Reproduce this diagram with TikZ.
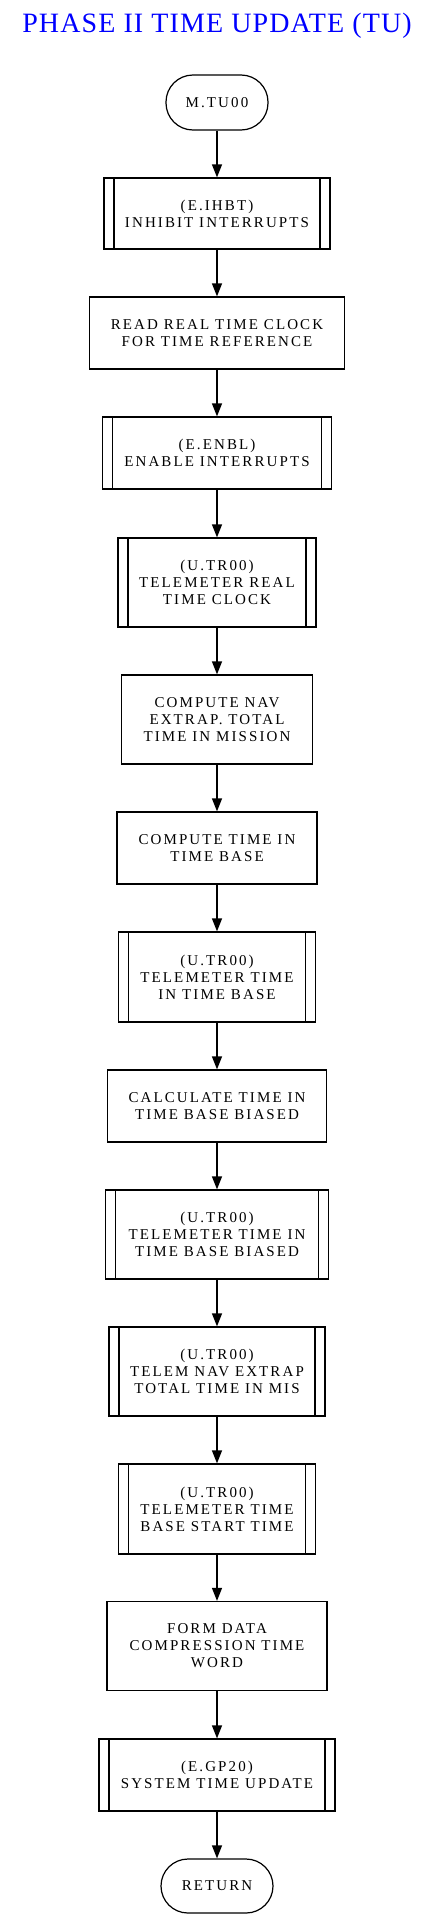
\documentclass[tikz,border=0pt]{standalone}
\usepackage{fontspec}
\newfontfamily\boxfont{Liberation Serif}[LetterSpace=14]
\newfontfamily\titlefont{Liberation Serif}[LetterSpace=4]
\usepackage{tikz}
\usetikzlibrary{arrows.meta}

\begin{document}
\begin{tikzpicture}[x=1pt, y=-1pt,
    every node/.style={inner sep=0pt, align=center, line width=1.2pt,
      font=\boxfont\fontsize{15}{17}\selectfont},
    proc/.style={draw, rectangle},
    term/.style={draw, rectangle, rounded corners=27pt},
    sub/.style={draw, rectangle, path picture={
      \draw[line width=1.2pt] ([xshift=10pt]path picture bounding box.north west) -- ([xshift=10pt]path picture bounding box.south west);
      \draw[line width=1.2pt] ([xshift=-10pt]path picture bounding box.north east) -- ([xshift=-10pt]path picture bounding box.south east);}},
    arr/.style={line width=1.2pt, -{Triangle[length=13pt, width=10pt]}}]
    \useasboundingbox (0,0) rectangle (435,1919);

    % Title
    \node[anchor=base, text=blue, font=\titlefont\fontsize{28}{30}\selectfont] (title) at (217,33) {PHASE II TIME UPDATE (TU)};

    % Entry
    \node[term, minimum width=102, minimum height=55] (start) at (217,102.5) {M.TU00};

    % Steps
    \node[sub, minimum width=226, minimum height=71] (ihbt) at (217,213.5) {(E.IHBT)\\INHIBIT INTERRUPTS};
    \node[proc, minimum width=255, minimum height=72] (rtc) at (217,333) {READ REAL TIME CLOCK\\FOR TIME REFERENCE};
    \node[sub, minimum width=229, minimum height=72] (enbl) at (217,453) {(E.ENBL)\\ENABLE INTERRUPTS};
    \node[sub, minimum width=198, minimum height=89] (trrtc) at (217,582.5) {(U.TR00)\\TELEMETER REAL\\TIME CLOCK};
    \node[proc, minimum width=191, minimum height=89] (nav) at (217,719.5) {COMPUTE NAV\\EXTRAP. TOTAL\\TIME IN MISSION};
    \node[proc, minimum width=200, minimum height=72] (tb) at (217,848) {COMPUTE TIME IN\\TIME BASE};
    \node[sub, minimum width=197, minimum height=90] (trtb) at (217,977) {(U.TR00)\\TELEMETER TIME\\IN TIME BASE};
    \node[proc, minimum width=219, minimum height=72] (tbb) at (217,1106) {CALCULATE TIME IN\\TIME BASE BIASED};
    \node[sub, minimum width=223, minimum height=89] (trtbb) at (217,1234.5) {(U.TR00)\\TELEMETER TIME IN\\TIME BASE BIASED};
    \node[sub, minimum width=216, minimum height=89] (trnav) at (217,1371.5) {(U.TR00)\\TELEM NAV EXTRAP\\TOTAL TIME IN MIS};
    \node[sub, minimum width=197, minimum height=90] (trst) at (217,1509) {(U.TR00)\\TELEMETER TIME\\BASE START TIME};
    \node[proc, minimum width=220, minimum height=89] (dcw) at (217,1646) {FORM DATA\\COMPRESSION TIME\\WORD};
    \node[sub, minimum width=236, minimum height=72] (gp20) at (217,1775) {(E.GP20)\\SYSTEM TIME UPDATE};

    % Exit
    \node[term, minimum width=112, minimum height=54] (ret) at (217,1886) {RETURN};

    % Arrows
    \draw[arr] (start) -- (ihbt);
    \draw[arr] (ihbt) -- (rtc);
    \draw[arr] (rtc) -- (enbl);
    \draw[arr] (enbl) -- (trrtc);
    \draw[arr] (trrtc) -- (nav);
    \draw[arr] (nav) -- (tb);
    \draw[arr] (tb) -- (trtb);
    \draw[arr] (trtb) -- (tbb);
    \draw[arr] (tbb) -- (trtbb);
    \draw[arr] (trtbb) -- (trnav);
    \draw[arr] (trnav) -- (trst);
    \draw[arr] (trst) -- (dcw);
    \draw[arr] (dcw) -- (gp20);
    \draw[arr] (gp20) -- (ret);
  \end{tikzpicture}
\end{document}
